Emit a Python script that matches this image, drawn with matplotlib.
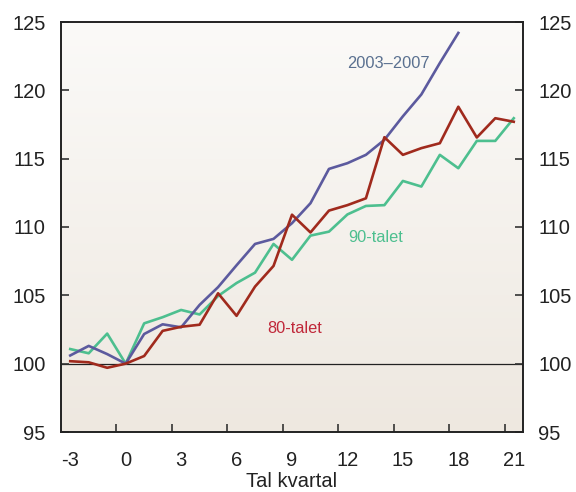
import numpy as np
import matplotlib
matplotlib.use("Agg")
import matplotlib.pyplot as plt
from matplotlib.colors import LinearSegmentedColormap

plt.rcParams['font.family'] = ['Liberation Sans', 'DejaVu Sans']

# Data
quarters_long = list(range(-3, 22))
quarters_0307 = list(range(-3, 19))
s80 = [100.18, 100.1, 99.7, 100.0, 100.56, 102.4, 102.7, 102.85, 105.15, 103.5,
       105.64, 107.15, 110.9, 109.6, 111.2, 111.6, 112.1, 116.57, 115.28, 115.77,
       116.13, 118.8, 116.55, 117.96, 117.7]
s90 = [101.07, 100.76, 102.2, 100.0, 102.95, 103.4, 103.93, 103.6, 104.95, 105.9,
       106.66, 108.76, 107.6, 109.37, 109.66, 110.92, 111.54, 111.6, 113.37, 112.96,
       115.28, 114.3, 116.3, 116.3, 117.96]
s0307 = [100.6, 101.3, 100.7, 100.0, 102.17, 102.88, 102.66, 104.3, 105.6, 107.2,
         108.76, 109.13, 110.28, 111.74, 114.25, 114.67, 115.28, 116.38, 118.1, 119.7,
         122.0, 124.2]
xticks = [-3, 0, 3, 6, 9, 12, 15, 18, 21]
yticks = [95, 100, 105, 110, 115, 120, 125]

c80 = "#a02a1d"
c90 = "#4dbf8f"
c0307 = "#5c5a9e"

fig = plt.figure(figsize=(5.76, 4.92), dpi=100)
ax = fig.add_axes([61/576, 1-432/492, (523-61)/576, (432-22)/492])

# gradient background
cmap = LinearSegmentedColormap.from_list("bg", ["#eee8e0", "#fbfaf8"])
grad = np.linspace(0, 1, 256).reshape(-1, 1)
ax.imshow(grad, extent=[-3.5, 21.5, 95, 125], origin="lower", aspect="auto",
          cmap=cmap, zorder=0)

ax.axhline(100, color="#222222", lw=0.9, zorder=1)
ax.plot(quarters_long, s90, color=c90, lw=1.9, zorder=3)
ax.plot(quarters_0307, s0307, color=c0307, lw=1.9, zorder=4)
ax.plot(quarters_long, s80, color=c80, lw=1.9, zorder=5)

ax.set_xlim(-3.5, 21.5)
ax.set_ylim(95, 125)
ax.set_xticks(xticks)
ax.set_xticklabels([str(t) for t in xticks])
ax.set_xticks(np.arange(-0.5, 21, 3), minor=True)
ax.set_yticks(yticks)

ax.tick_params(axis="x", which="major", length=0, pad=14, labelsize=14.5, colors="#222222")
ax.tick_params(axis="x", which="minor", direction="in", length=5.5, width=1.2, color="#333333")
ax.tick_params(axis="y", which="major", direction="in", length=5.5, width=1.2,
               left=True, right=True, labelleft=True, labelright=True,
               pad=11, labelsize=14.5, colors="#222222")
ax.tick_params(axis="y", which="major", color="#333333")

for sp in ax.spines.values():
    sp.set_linewidth(1.4)
    sp.set_color("#222222")

ax.set_xlabel("Tal kvartal", fontsize=14.5, color="#222222", labelpad=1)

ax.text(14.2, 121.95, "2003–2007", color="#5a7090", fontsize=11.8, ha="center", va="center")
ax.text(13.5, 109.2, "90-talet", color=c90, fontsize=11.8, ha="center", va="center")
ax.text(9.12, 102.6, "80-talet", color="#c0283a", fontsize=11.8, ha="center", va="center")

fig.savefig("out.png", dpi=100)
